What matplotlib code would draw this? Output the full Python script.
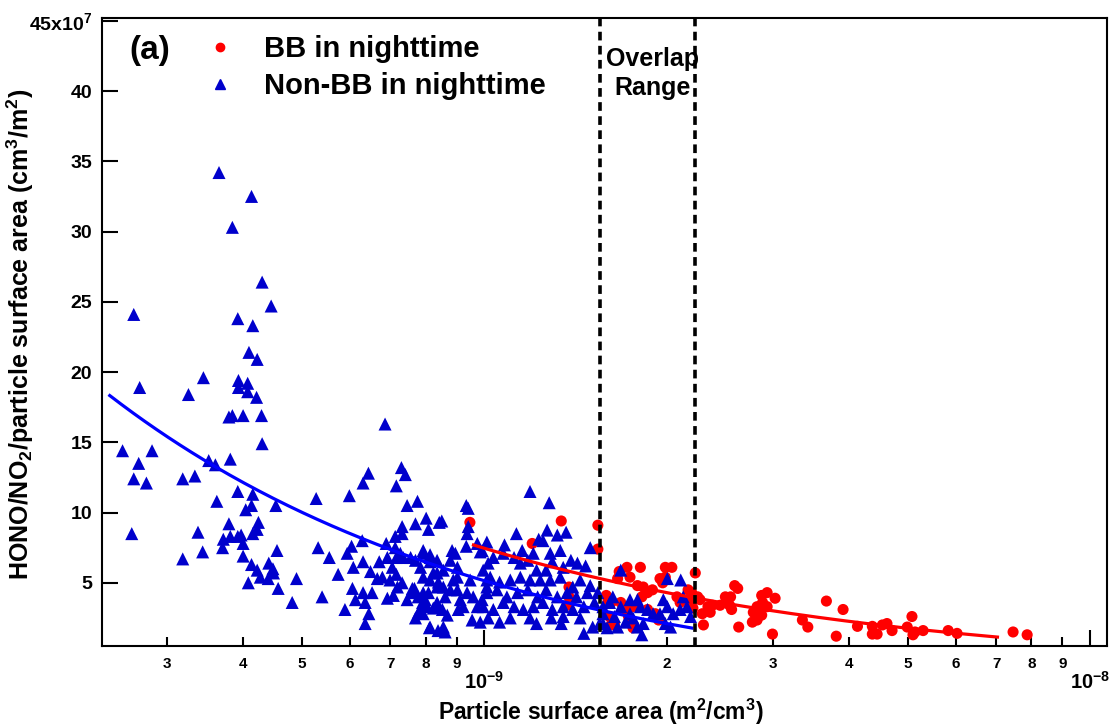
import numpy as np
import matplotlib
matplotlib.use('Agg')
import matplotlib.pyplot as plt
import matplotlib.transforms as mtransforms
from matplotlib.lines import Line2D
from matplotlib.ticker import FixedLocator, FixedFormatter

plt.rcParams['font.family'] = ['Liberation Sans', 'DejaVu Sans']
plt.rcParams['font.weight'] = 'bold'
plt.rcParams['mathtext.fontset'] = 'custom'
plt.rcParams['mathtext.rm'] = 'Liberation Sans:bold'
plt.rcParams['mathtext.bf'] = 'Liberation Sans:bold'
plt.rcParams['mathtext.it'] = 'Liberation Sans:bold:italic'
plt.rcParams['mathtext.default'] = 'rm'

# ---------------- data ----------------
# x: particle surface area in units of 1e-10 m2/cm3 ; y: HONO/NO2/PSA in units of 1e7 cm3/m2
X_UNIT = 1e-10

nonbb_x = [
    3.65, 4.13, 3.84, 4.30, 4.45, 2.64, 3.92, 4.15, 4.09, 4.22,
    3.44, 3.93, 4.07, 3.93, 4.07, 4.21, 2.70, 3.25, 3.79, 3.84,
    4.00, 4.29, 4.30, 2.53, 2.83, 2.69, 2.64, 2.77, 3.18, 3.33,
    3.51, 3.60, 3.81, 3.62, 3.92, 4.15, 4.04, 4.13, 4.53, 5.28,
    2.62, 3.37, 3.43, 3.18, 3.79, 3.71, 3.81, 3.92, 3.97, 3.70,
    4.00, 4.15, 4.22, 4.24, 4.00, 4.55, 4.13, 4.22, 4.27, 4.41,
    4.48, 4.49, 4.40, 4.08, 4.57, 4.90, 4.82,
    6.86, 5.99, 6.31, 6.44, 7.16, 7.30, 7.41, 7.46, 7.76, 8.02,
    7.70, 7.32, 7.32, 7.13, 8.09, 5.32, 5.55, 5.74, 5.40, 5.89,
    6.45, 6.36, 6.04, 5.94, 6.08, 6.06, 6.13, 6.29, 6.31, 6.49,
    6.66, 6.71, 6.31, 6.53, 6.36, 6.89, 6.92, 7.05, 6.92, 7.08,
    6.79, 6.99, 7.16, 7.32, 7.19, 7.46, 7.61, 7.67, 7.16, 7.35,
    7.56, 7.70, 7.85, 7.93, 7.93, 8.14, 8.36, 7.70, 7.79, 7.93,
    7.99, 7.90, 8.09, 8.12, 8.14, 8.36, 8.24, 8.43, 8.36, 8.39,
    8.51, 9.34, 9.41, 9.41, 9.37, 7.13, 7.27, 7.93, 8.14, 8.85,
    8.96, 9.34, 9.74, 9.92, 7.61, 7.78, 7.91, 7.93, 8.05, 8.14,
    8.24, 8.36, 8.53, 8.62, 8.56, 8.79, 8.69, 8.56, 8.62, 8.89,
    9.03, 9.13, 9.06, 9.23, 9.37, 9.48, 9.59, 9.55, 9.74, 9.92,
    10.1, 9.85, 9.96, 10.15, 10.1, 8.14, 8.36, 8.56, 8.79, 9.03,
    9.03, 8.40,
    11.9, 12.8, 11.3, 12.7, 13.2, 13.65, 12.3, 12.5, 14.96, 10.1,
    10.8, 11.55, 12.05, 9.85, 10.35, 10.75, 11.2, 11.47, 11.8, 12.85,
    13.35, 13.9, 14.25, 13.5, 12.95, 12.65, 12.2, 14.7, 14.4, 14.0,
    14.96, 15.4, 15.2, 10.23, 10.6, 11.04, 11.47, 11.9, 12.37, 12.85,
    13.35, 10.1, 10.5, 10.9, 11.35, 11.8, 12.25, 12.65, 13.2, 13.7,
    14.2, 14.8, 9.96, 10.35, 10.75, 11.2, 11.6, 12.05, 12.5, 12.95,
    13.5, 14.0, 14.6, 10.15, 10.6, 11.04, 11.9, 12.2, 12.9, 13.4,
    14.4, 14.6, 15.1, 15.7, 13.5,
    16.8, 20.05, 21.1, 16.3, 16.1, 15.7, 16.8, 16.4, 15.7, 15.5,
    16.6, 15.95, 17.1, 17.4, 17.4, 17.9, 18.1, 18.6, 17.6, 17.9,
    18.3, 18.2, 19.0, 19.5, 19.75, 20.05, 19.9, 20.3, 20.5, 21.05,
    21.3, 21.6, 21.9,
]
nonbb_y = [
    34.2, 32.5, 30.3, 26.4, 24.7, 24.1, 23.8, 23.3, 21.4, 20.9,
    19.6, 19.4, 19.2, 18.9, 18.6, 18.2, 18.9, 18.4, 16.8, 16.9,
    16.9, 16.9, 14.9, 14.4, 14.4, 13.5, 12.4, 12.1, 12.4, 12.6,
    13.7, 13.4, 13.8, 10.8, 11.5, 11.3, 10.2, 10.5, 10.5, 11.0,
    8.5, 8.6, 7.2, 6.7, 9.2, 8.1, 8.3, 8.3, 8.4, 7.5,
    7.8, 8.5, 8.8, 9.3, 6.9, 7.3, 6.3, 5.9, 5.4, 6.4,
    6.0, 5.7, 5.3, 5.0, 4.6, 5.3, 3.6,
    16.3, 11.2, 12.1, 12.8, 11.9, 13.2, 12.7, 10.5, 10.8, 9.6,
    9.2, 9.0, 8.5, 8.3, 8.8, 7.5, 6.8, 5.6, 4.0, 3.1,
    2.8, 2.1, 7.6, 7.1, 6.1, 4.6, 3.8, 8.0, 6.5, 5.8,
    5.3, 6.5, 4.3, 4.3, 3.6, 7.8, 6.8, 6.1, 3.9, 4.1,
    5.4, 5.2, 5.6, 5.0, 4.7, 3.8, 4.3, 4.6, 6.8, 6.8,
    6.8, 6.6, 6.1, 5.4, 7.1, 6.8, 6.6, 2.5, 2.9, 4.3,
    3.8, 3.4, 4.3, 1.8, 5.2, 4.7, 5.7, 9.3, 3.3, 1.6,
    9.4, 10.5, 10.3, 9.0, 8.5, 7.5, 7.1, 7.3, 7.0, 7.3,
    7.1, 7.6, 7.8, 7.3, 4.6, 4.0, 3.6, 2.8, 3.3, 1.85,
    3.2, 3.6, 3.1, 4.0, 4.7, 4.5, 2.7, 1.85, 1.5, 5.2,
    4.5, 3.8, 3.1, 3.3, 4.3, 5.2, 4.0, 2.35, 3.3, 3.8,
    4.7, 2.2, 5.9, 6.4, 5.2, 6.5, 5.7, 5.9, 6.6, 5.4,
    6.1, 5.05,
    11.5, 10.7, 8.5, 8.75, 8.4, 8.6, 8.1, 8.0, 7.5, 7.9,
    7.7, 7.3, 7.1, 7.2, 6.8, 7.1, 6.8, 6.4, 6.6, 7.1,
    7.3, 6.6, 6.4, 6.1, 6.5, 5.9, 5.9, 6.2, 5.2, 4.7,
    4.8, 4.3, 3.6, 5.4, 5.05, 5.2, 5.4, 5.2, 5.2, 5.2,
    5.4, 4.3, 4.5, 4.0, 4.3, 4.5, 4.0, 4.5, 4.0, 4.3,
    4.0, 4.3, 3.3, 3.1, 3.6, 3.3, 3.1, 3.3, 3.6, 3.1,
    3.3, 3.1, 3.3, 2.5, 2.2, 2.5, 2.5, 2.1, 2.5, 2.1,
    2.5, 1.4, 1.85, 2.1, 2.6,
    5.9, 5.3, 5.2, 4.0, 3.6, 3.3, 3.3, 2.6, 2.8, 2.1,
    1.85, 1.8, 2.2, 2.8, 3.8, 3.8, 3.3, 3.1, 2.5, 1.85,
    2.1, 1.3, 2.8, 2.8, 3.8, 3.3, 2.1, 1.85, 2.8, 3.1,
    4.0, 3.3, 2.6,
]

bb_x = [
    9.47, 13.4, 15.4, 12.0, 15.4, 13.8, 13.7, 13.8, 16.0, 16.2,
    17.2, 18.1, 19.9, 20.4, 16.7, 17.4, 16.6, 19.5, 19.7, 19.9,
    17.9, 18.3, 18.6, 18.95, 18.2, 22.3, 21.7, 22.0, 22.5, 22.7,
    21.9, 22.1, 22.9, 23.0, 23.4, 23.8, 23.6, 25.0, 15.9, 16.2,
    16.1, 16.4, 16.8, 17.1, 17.3, 17.6, 18.6, 19.15, 19.4, 20.8,
    21.05, 17.6, 25.9, 26.2, 25.5, 25.4, 25.6, 24.5, 26.3, 28.7,
    29.3, 30.2, 28.2, 28.8, 29.3, 27.8, 28.3, 27.7, 28.2, 28.7,
    29.9, 33.5, 34.2, 36.7, 39.1, 38.1, 41.3, 43.7, 44.5, 43.7,
    45.4, 46.2, 47.1, 49.9, 50.8, 51.4, 51.0, 53.0, 58.3, 60.3,
    74.6, 78.7,
]
bb_y = [
    9.3, 9.4, 9.1, 7.8, 7.4, 4.7, 3.4, 4.0, 3.6, 2.0,
    6.1, 6.1, 6.1, 6.1, 5.8, 5.4, 5.3, 5.3, 5.0, 5.4,
    4.8, 4.7, 4.3, 4.5, 4.0, 5.7, 4.5, 4.3, 4.0, 3.8,
    3.6, 3.2, 2.8, 2.0, 3.3, 3.4, 2.9, 4.0, 4.1, 3.6,
    2.6, 2.1, 3.6, 3.1, 2.6, 3.3, 3.1, 2.8, 2.35, 4.0,
    3.6, 1.8, 4.8, 4.6, 4.0, 3.4, 3.1, 3.4, 1.85, 4.1,
    4.3, 3.9, 3.3, 3.6, 3.3, 2.9, 2.6, 2.2, 2.35, 2.7,
    1.35, 2.35, 1.85, 3.7, 3.1, 1.2, 1.9, 1.9, 1.35, 1.35,
    2.0, 2.1, 1.6, 1.85, 2.6, 1.5, 1.3, 1.6, 1.6, 1.4,
    1.5, 1.3,
]

# power-law fits y = a * (x / 1e-9)^b + c, drawn over the given x range
nonbb_fit = dict(a=8.15, b=-0.676, c=-3.0, xmin=2.41e-10, xmax=2.20e-9)
bb_fit = dict(a=8.96, b=-0.627, c=-1.5, xmin=9.6e-10, xmax=7.03e-9)

overlap_range = [1.55e-9, 2.23e-9]

x_major_ticks = [1e-9, 1e-8]
x_major_labels = [r'$10^{-9}$', r'$10^{-8}$']
x_minor_ticks = [3e-10, 4e-10, 5e-10, 6e-10, 7e-10, 8e-10, 9e-10,
                 2e-9, 3e-9, 4e-9, 5e-9, 6e-9, 7e-9, 8e-9, 9e-9]
x_minor_labels = ['3', '4', '5', '6', '7', '8', '9',
                  '2', '3', '4', '5', '6', '7', '8', '9']
y_ticks = [5, 10, 15, 20, 25, 30, 35, 40, 45]
y_tick_labels = ['5', '10', '15', '20', '25', '30', '35', '40', r'45x10$^{7}$']

# ---------------- figure ----------------
fig = plt.figure(figsize=(11.10, 7.28), dpi=100)
ax = fig.add_axes([0.0919, 0.1126, 0.9054, 0.8627])

BLUE = '#0000CC'
RED = '#FF0000'

ax.scatter(np.array(bb_x) * X_UNIT, bb_y, s=64, marker='o', color=RED,
           edgecolors='none', zorder=3)
ax.scatter(np.array(nonbb_x) * X_UNIT, nonbb_y, s=88, marker='^', color=BLUE,
           edgecolors='none', zorder=4)


def fit_curve(p):
    xs = np.logspace(np.log10(p['xmin']), np.log10(p['xmax']), 200)
    return xs, p['a'] * (xs / 1e-9) ** p['b'] + p['c']


xs, ys = fit_curve(nonbb_fit)
ax.plot(xs, ys, color='#0000FF', lw=2.3, zorder=5)
xs, ys = fit_curve(bb_fit)
ax.plot(xs, ys, color=RED, lw=2.3, zorder=6)

for xv in overlap_range:
    ax.axvline(xv, color='black', lw=2.6, dashes=(2.4, 1.5), zorder=7)

ax.set_xscale('log')
ax.set_xlim(2.34e-10, 1.066e-8)
ax.set_ylim(0.5, 45.2)

ax.xaxis.set_major_locator(FixedLocator(x_major_ticks))
ax.xaxis.set_major_formatter(FixedFormatter(x_major_labels))
ax.xaxis.set_minor_locator(FixedLocator(x_minor_ticks))
ax.xaxis.set_minor_formatter(FixedFormatter(x_minor_labels))
ax.yaxis.set_major_locator(FixedLocator(y_ticks))
ax.yaxis.set_major_formatter(FixedFormatter(y_tick_labels))
ax.yaxis.set_minor_locator(FixedLocator([]))

ax.tick_params(axis='x', which='major', direction='in', length=11.5, width=1.5,
               labelsize=14.5, pad=18, top=False)
ax.tick_params(axis='x', which='minor', direction='in', length=6.5, width=1.5,
               labelsize=11, pad=8, top=False)
ax.tick_params(axis='y', which='major', direction='in', length=11.5, width=1.5,
               labelsize=14, pad=7, right=False)

for sp in ax.spines.values():
    sp.set_linewidth(1.5)

ax.set_xlabel(r'Particle surface area (m$^{2}$/cm$^{3}$)', fontsize=16.5, fontweight='bold')
ax.xaxis.set_label_coords(0.496, -0.081)
ax.set_ylabel(r'HONO/NO$_{2}$/particle surface area (cm$^{3}$/m$^{2}$)', fontsize=18,
              fontweight='bold')
ax.yaxis.set_label_coords(-0.066, 0.497)

ax.text(0.027, 0.948, '(a)', transform=ax.transAxes, fontsize=24, fontweight='bold',
        ha='left', va='center')

trans = mtransforms.blended_transform_factory(ax.transData, ax.transAxes)
ax.text(np.sqrt(overlap_range[0] * overlap_range[1]) * 1.02, 0.912, 'Overlap\nRange',
        transform=trans, fontsize=18, fontweight='bold', ha='center', va='center',
        linespacing=1.25)

handles = [
    Line2D([], [], marker='o', color=RED, ls='none', markersize=6),
    Line2D([], [], marker='^', color=BLUE, ls='none', markersize=7),
]
ax.legend(handles, ['BB in nighttime', 'Non-BB in nighttime'], loc='upper left',
          bbox_to_anchor=(0.08, 1.01), frameon=False,
          handlelength=1.0, handletextpad=1.0, labelspacing=0.3, borderpad=0.3,
          prop={'weight': 'bold', 'size': 21})

fig.savefig('out.png', dpi=100)
